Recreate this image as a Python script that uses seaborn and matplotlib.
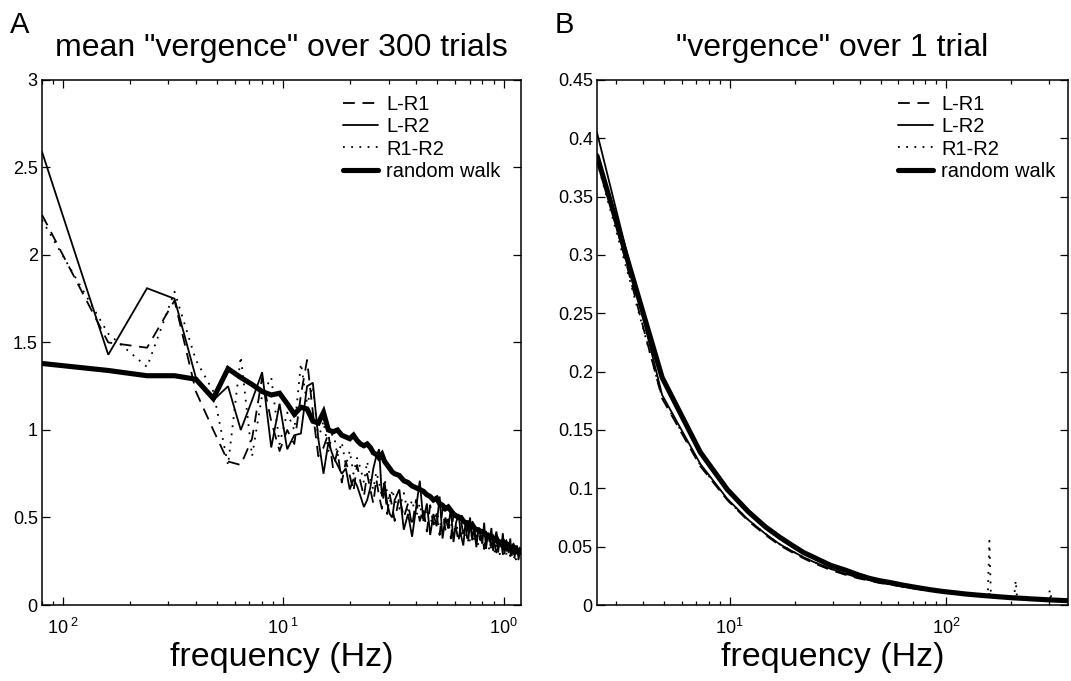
import numpy as np
import pandas as pd
import matplotlib
matplotlib.use("Agg")
import matplotlib.pyplot as plt
import seaborn as sns
from matplotlib.ticker import FixedLocator, FuncFormatter, LogLocator, NullFormatter

sns.set_style("ticks")
plt.rcParams["font.family"] = ["Liberation Sans", "DejaVu Sans"]
plt.rcParams["mathtext.fontset"] = "custom"
plt.rcParams["mathtext.rm"] = "Liberation Sans"
plt.rcParams["mathtext.it"] = "Liberation Sans:italic"
plt.rcParams["lines.scale_dashes"] = False
for key in ("text.color", "axes.labelcolor", "xtick.color", "ytick.color", "axes.edgecolor"):
    plt.rcParams[key] = "black"

# ---------------- Panel A data (frequency bins of 1/125 Hz) ----------------
bins_A = list(range(1, 41)) + list(range(42, 151, 2))
bin_width_A = 1.0 / 125.0

lr1_A = [2.23, 1.50, 1.47, 1.74, 1.22, 1.00, 0.82, 0.80, 0.95, 1.30,
         1.05, 0.88, 1.00, 0.92, 1.20, 1.40, 1.10, 0.85, 0.90, 0.98,
         0.78, 0.88, 0.70, 0.82, 0.74, 0.65, 0.80, 0.70, 0.62, 0.75,
         0.66, 0.58, 0.72, 0.62, 0.55, 0.68, 0.52, 0.63, 0.56, 0.48,
         0.62, 0.50, 0.58, 0.45, 0.60,
         0.48, 0.55, 0.42, 0.57, 0.46,
         0.52, 0.40, 0.55, 0.43, 0.49,
         0.38, 0.52, 0.44, 0.36, 0.48,
         0.41, 0.45, 0.35, 0.47, 0.39,
         0.42, 0.34, 0.44, 0.37, 0.40,
         0.32, 0.42, 0.36, 0.39, 0.31,
         0.40, 0.34, 0.30, 0.38, 0.33,
         0.36, 0.29, 0.37, 0.32, 0.30,
         0.35, 0.28, 0.33, 0.30, 0.27,
         0.32, 0.29, 0.26, 0.31, 0.28]

lr2_A = [2.59, 1.43, 1.81, 1.75, 1.30, 1.17, 1.25, 1.00, 1.17, 1.33,
         0.90, 1.15, 0.89, 0.97, 0.98, 1.25, 1.27, 0.95, 0.75, 0.93,
         0.85, 0.80, 0.75, 0.78, 0.66, 0.72, 0.68, 0.62, 0.56, 0.60,
         0.67, 0.78, 0.85, 0.89, 0.62, 0.70, 0.58, 0.52, 0.50, 0.60,
         0.66, 0.43, 0.52, 0.39, 0.55,
         0.71, 0.48, 0.58, 0.40, 0.52,
         0.45, 0.62, 0.38, 0.50, 0.44,
         0.55, 0.36, 0.47, 0.52, 0.40,
         0.34, 0.48, 0.42, 0.50, 0.37,
         0.45, 0.33, 0.44, 0.40, 0.35,
         0.47, 0.32, 0.41, 0.36, 0.44,
         0.31, 0.38, 0.42, 0.30, 0.37,
         0.33, 0.41, 0.29, 0.36, 0.34,
         0.30, 0.38, 0.28, 0.35, 0.31,
         0.29, 0.34, 0.27, 0.32, 0.29]

r1r2_A = [2.20, 1.55, 1.36, 1.79, 1.40, 1.22, 0.80, 1.42, 0.85, 1.20,
          1.30, 0.92, 1.10, 1.00, 1.38, 1.15, 1.25, 0.95, 1.05, 0.88,
          1.00, 0.85, 0.93, 0.80, 0.88, 0.75, 0.84, 0.78, 0.70, 0.82,
          0.72, 0.66, 0.76, 0.70, 0.62, 0.72, 0.64, 0.58, 0.66, 0.60,
          0.55, 0.64, 0.52, 0.60, 0.50,
          0.58, 0.47, 0.55, 0.50, 0.45,
          0.53, 0.48, 0.42, 0.50, 0.44,
          0.47, 0.40, 0.46, 0.42, 0.38,
          0.44, 0.39, 0.43, 0.36, 0.41,
          0.37, 0.40, 0.34, 0.39, 0.36,
          0.33, 0.38, 0.35, 0.31, 0.37,
          0.34, 0.30, 0.36, 0.32, 0.29,
          0.35, 0.31, 0.33, 0.28, 0.32,
          0.30, 0.27, 0.33, 0.29, 0.30,
          0.26, 0.31, 0.28, 0.30, 0.27]

walk_A = [1.38, 1.34, 1.31, 1.31, 1.29, 1.18, 1.35, 1.30, 1.26, 1.22,
          1.20, 1.21, 1.15, 1.09, 1.13, 1.12, 1.05, 1.04, 1.10, 1.00,
          0.99, 1.00, 0.97, 0.96, 0.95, 0.97, 0.94, 0.92, 0.91, 0.92,
          0.90, 0.87, 0.86, 0.84, 0.86, 0.82, 0.80, 0.78, 0.76, 0.75,
          0.74, 0.71, 0.70, 0.68, 0.67,
          0.66, 0.65, 0.63, 0.62, 0.60,
          0.61, 0.58, 0.57, 0.55, 0.56,
          0.54, 0.52, 0.51, 0.50, 0.50,
          0.48, 0.47, 0.47, 0.45, 0.46,
          0.44, 0.43, 0.43, 0.42, 0.42,
          0.41, 0.40, 0.40, 0.39, 0.39,
          0.38, 0.37, 0.38, 0.36, 0.36,
          0.35, 0.36, 0.34, 0.35, 0.33,
          0.34, 0.33, 0.32, 0.33, 0.31,
          0.32, 0.31, 0.30, 0.31, 0.30]

# ---------------- Panel B data (frequency bins of 2.44 Hz) ----------------
bins_B = [1, 2, 3, 4, 5, 6, 7, 8, 9, 10,
          12, 14, 16, 18, 20,
          23, 26, 30, 35, 40,
          45, 50, 55, 60,
          63, 64, 65, 66, 67,
          70, 75, 80,
          84, 85, 86, 87, 88,
          95, 100, 110, 120,
          122, 123, 124, 125, 126,
          130, 140, 150]
bin_width_B = 2.44

lr1_B = [0.387, 0.177, 0.119, 0.090, 0.072, 0.060, 0.051, 0.045, 0.040, 0.036,
         0.030, 0.026, 0.023, 0.021, 0.019,
         0.0172, 0.0156, 0.0137, 0.0121, 0.0108,
         0.0099, 0.0091, 0.0085, 0.0079,
         0.0080, 0.0077, 0.0095, 0.0078, 0.0074,
         0.0071, 0.0067, 0.0063,
         0.0061, 0.0063, 0.0075, 0.0060, 0.0058,
         0.0056, 0.0052, 0.0049, 0.0046,
         0.0045, 0.0047, 0.0065, 0.0044, 0.0043,
         0.0042, 0.0040, 0.0038]

lr2_B = [0.405, 0.180, 0.121, 0.091, 0.073, 0.061, 0.052, 0.046, 0.041, 0.037,
         0.031, 0.027, 0.0235, 0.0215, 0.0195,
         0.0175, 0.0158, 0.0139, 0.0124, 0.011,
         0.010, 0.0092, 0.0086, 0.0080,
         0.0078, 0.0080, 0.0083, 0.0077, 0.0075,
         0.0071, 0.0068, 0.0064,
         0.0062, 0.0060, 0.0063, 0.0059, 0.0058,
         0.0057, 0.0053, 0.0050, 0.0046,
         0.0047, 0.0044, 0.0048, 0.0043, 0.0044,
         0.0043, 0.0040, 0.0038]

r1r2_B = [0.380, 0.178, 0.120, 0.090, 0.073, 0.061, 0.052, 0.046, 0.041, 0.037,
          0.031, 0.027, 0.0235, 0.0215, 0.0195,
          0.0176, 0.0158, 0.0139, 0.0123, 0.011,
          0.0101, 0.0093, 0.0087, 0.0081,
          0.0085, 0.0120, 0.0550, 0.0110, 0.0078,
          0.0073, 0.0069, 0.0066,
          0.0070, 0.0110, 0.0210, 0.0090, 0.0062,
          0.0060, 0.0055, 0.0052, 0.0050,
          0.0070, 0.0110, 0.0130, 0.0080, 0.0050,
          0.0046, 0.0042, 0.0040]

walk_B = [0.385, 0.195, 0.131, 0.099, 0.080, 0.067, 0.058, 0.051, 0.045, 0.041,
          0.034, 0.030, 0.026, 0.023, 0.021,
          0.019, 0.017, 0.015, 0.013, 0.0115,
          0.0105, 0.0095, 0.0088, 0.0082,
          0.0079, 0.0078, 0.0077, 0.0076, 0.0075,
          0.0072, 0.0068, 0.0064,
          0.0061, 0.0061, 0.0060, 0.0060, 0.0059,
          0.0056, 0.0053, 0.0049, 0.0045,
          0.0044, 0.0044, 0.0044, 0.0043, 0.0043,
          0.0042, 0.0039, 0.0037]

series_names = ["L-R1", "L-R2", "R1-R2", "random walk"]
titles = ['mean "vergence" over 300 trials', '"vergence" over 1 trial']
panel_letters = ["A", "B"]


def long_frame(bins, width, columns):
    freq = np.asarray(bins, dtype=float) * width
    parts = [pd.DataFrame({"freq": freq, "value": vals, "series": name})
             for name, vals in zip(series_names, columns)]
    return pd.concat(parts, ignore_index=True)


df_A = long_frame(bins_A, bin_width_A, [lr1_A, lr2_A, r1r2_A, walk_A])
df_B = long_frame(bins_B, bin_width_B, [lr1_B, lr2_B, r1r2_B, walk_B])

styles = {
    "L-R1": dict(lw=1.3, linestyle=(0, (8.5, 5.5))),
    "L-R2": dict(lw=1.3, linestyle="-"),
    "R1-R2": dict(lw=1.3, linestyle=(0, (1.3, 4.6))),
    "random walk": dict(lw=3.7, linestyle="-"),
}

fig = plt.figure(figsize=(10.71, 6.81), dpi=100)
axA = fig.add_axes([0.0392, 0.1116, 0.4473, 0.771])
axB = fig.add_axes([0.5574, 0.1116, 0.4398, 0.771])

for ax, df in ((axA, df_A), (axB, df_B)):
    for name in series_names:
        sub = df[df["series"] == name]
        sns.lineplot(data=sub, x="freq", y="value", ax=ax, color="black",
                     label=name, estimator=None, sort=True,
                     solid_joinstyle="miter", **styles[name])
    ax.set_xscale("log")

# limits
axA.set_xlim(bin_width_A * bins_A[0], bin_width_A * bins_A[-1])
axA.set_ylim(0, 3)
axB.set_xlim(bin_width_B * bins_B[0], bin_width_B * bins_B[-1])
axB.set_ylim(0, 0.45)

axA.yaxis.set_major_locator(FixedLocator([0, 0.5, 1, 1.5, 2, 2.5, 3]))
axB.yaxis.set_major_locator(FixedLocator(list(np.round(np.arange(0, 0.4501, 0.05), 2))))
fmt = FuncFormatter(lambda v, _: f"{v:g}")
for ax in (axA, axB):
    ax.yaxis.set_major_formatter(fmt)
    ax.xaxis.set_minor_locator(LogLocator(base=10, subs=np.arange(2, 10)))
    ax.xaxis.set_minor_formatter(NullFormatter())

axA.xaxis.set_major_locator(FixedLocator([0.01, 0.1, 1]))
axA.set_xticklabels([r"$\mathregular{10^{\ 2}}$", r"$\mathregular{10^{\ 1}}$",
                     r"$\mathregular{10^{0}}$"])
axB.xaxis.set_major_locator(FixedLocator([10, 100]))
axB.set_xticklabels([r"$\mathregular{10^{1}}$", r"$\mathregular{10^{2}}$"])

for ax, title, letter in zip((axA, axB), titles, panel_letters):
    ax.set_title(title, fontsize=23, pad=17)
    ax.set_xlabel("frequency (Hz)", fontsize=24.5, labelpad=3)
    ax.set_ylabel("")
    ax.tick_params(which="both", direction="in", top=True, right=True,
                   labelsize=13, width=0.9, colors="black")
    ax.tick_params(which="major", length=6)
    ax.tick_params(axis="y", which="major", pad=3)
    ax.tick_params(axis="x", which="major", pad=9)
    ax.tick_params(which="minor", length=3)
    for sp in ax.spines.values():
        sp.set_visible(True)
        sp.set_linewidth(1.1)
        sp.set_color("black")
    ax.set_facecolor("white")

leg_kw = dict(loc="upper left", frameon=False, fontsize=14.5, handlelength=1.75,
              handletextpad=0.4, labelspacing=0.16, borderpad=0.2)
axA.legend(bbox_to_anchor=(0.599, 0.998), **leg_kw)
axB.legend(bbox_to_anchor=(0.609, 0.998), **leg_kw)

fig.text(10 / 1071, 1 - 25 / 681, panel_letters[0], fontsize=21, ha="left", va="center")
fig.text(555 / 1071, 1 - 25 / 681, panel_letters[1], fontsize=21, ha="left", va="center")

fig.savefig("out.png", dpi=100, facecolor="white")
